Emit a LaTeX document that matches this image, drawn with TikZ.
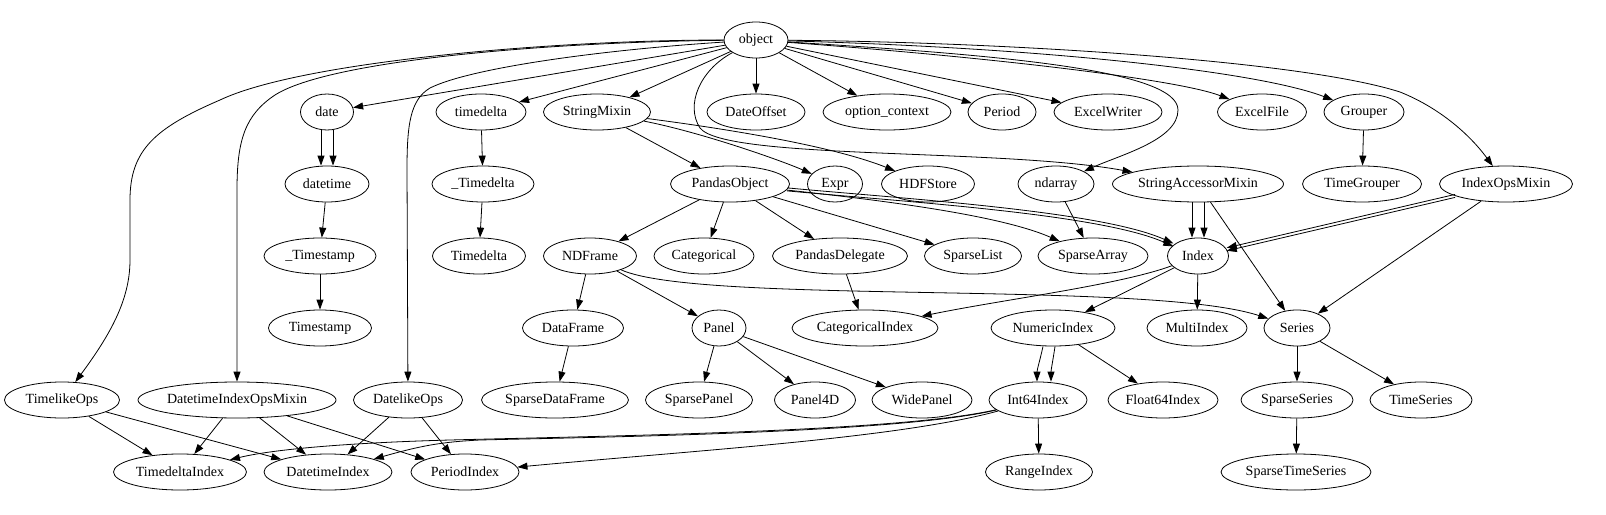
\documentclass[tikz,border=0pt]{standalone}
\usepackage{fontspec}
\setmainfont{Liberation Serif}
\usetikzlibrary{shapes.geometric,arrows.meta}
\begin{document}
\begin{tikzpicture}[x=1pt,y=-1pt,
  nd/.style={ellipse,draw,line width=0.8pt,inner sep=0pt,minimum height=36pt,font=\fontsize{14}{16}\selectfont},
  e/.style={-{Triangle[length=10pt,width=7pt]},line width=0.8pt}]
\useasboundingbox (0,0) rectangle (1606,514);
% rank 1
\node[nd,minimum width=64] (object) at (756,40) {object};
% rank 2
\node[nd,minimum width=53] (date) at (327,112) {date};
\node[nd,minimum width=90] (timedelta) at (481,112) {timedelta};
\node[nd,minimum width=107] (StringMixin) at (597,112) {StringMixin};
\node[nd,minimum width=98] (DateOffset) at (756,112) {DateOffset};
\node[nd,minimum width=128] (optctx) at (887,112) {option\_context};
\node[nd,minimum width=68] (Period) at (1002,112) {Period};
\node[nd,minimum width=108] (ExcelWriter) at (1108,112) {ExcelWriter};
\node[nd,minimum width=89] (ExcelFile) at (1262,112) {ExcelFile};
\node[nd,minimum width=80] (Grouper) at (1364,112) {Grouper};
% rank 3
\node[nd,minimum width=84] (datetime) at (327,184) {datetime};
\node[nd,minimum width=102] (uTimedelta) at (483,184) {\_Timedelta};
\node[nd,minimum width=119] (PandasObject) at (730,184) {PandasObject};
\node[nd,minimum width=55] (Expr) at (835,184) {Expr};
\node[nd,minimum width=93] (HDFStore) at (928,184) {HDFStore};
\node[nd,minimum width=76] (ndarray) at (1056,184) {ndarray};
\node[nd,minimum width=171] (SAM) at (1198,184) {StringAccessorMixin};
\node[nd,minimum width=119] (TimeGrouper) at (1362,184) {TimeGrouper};
\node[nd,minimum width=133] (IndexOpsMixin) at (1506,184) {IndexOpsMixin};
% rank 4
\node[nd,minimum width=112] (uTimestamp) at (320,256) {\_Timestamp};
\node[nd,minimum width=93] (Timedelta) at (479,256) {Timedelta};
\node[nd,minimum width=93] (NDFrame) at (590,256) {NDFrame};
\node[nd,minimum width=100] (Categorical) at (704,256) {Categorical};
\node[nd,minimum width=135] (PandasDelegate) at (840,256) {PandasDelegate};
\node[nd,minimum width=97] (SparseList) at (973,256) {SparseList};
\node[nd,minimum width=110] (SparseArray) at (1093,256) {SparseArray};
\node[nd,minimum width=61] (Index) at (1198,256) {Index};
% rank 5
\node[nd,minimum width=103] (Timestamp) at (320,328) {Timestamp};
\node[nd,minimum width=101] (DataFrame) at (573,328) {DataFrame};
\node[nd,minimum width=54] (Panel) at (719,328) {Panel};
\node[nd,minimum width=146] (CategoricalIndex) at (865,328) {CategoricalIndex};
\node[nd,minimum width=124] (NumericIndex) at (1053,328) {NumericIndex};
\node[nd,minimum width=100] (MultiIndex) at (1197,328) {MultiIndex};
\node[nd,minimum width=66] (Series) at (1297,328) {Series};
% rank 6
\node[nd,minimum width=115] (TimelikeOps) at (62,400) {TimelikeOps};
\node[nd,minimum width=198] (DIOM) at (237,400) {DatetimeIndexOpsMixin};
\node[nd,minimum width=109] (DatelikeOps) at (408,400) {DatelikeOps};
\node[nd,minimum width=147] (SparseDataFrame) at (555,400) {SparseDataFrame};
\node[nd,minimum width=107] (SparsePanel) at (699,400) {SparsePanel};
\node[nd,minimum width=81] (Panel4D) at (815,400) {Panel4D};
\node[nd,minimum width=100] (WidePanel) at (922,400) {WidePanel};
\node[nd,minimum width=98] (Int64Index) at (1038,400) {Int64Index};
\node[nd,minimum width=110] (Float64Index) at (1163,400) {Float64Index};
\node[nd,minimum width=112] (SparseSeries) at (1297,400) {SparseSeries};
\node[nd,minimum width=102] (TimeSeries) at (1421,400) {TimeSeries};
% rank 7
\node[nd,minimum width=133] (TimedeltaIndex) at (180,472) {TimedeltaIndex};
\node[nd,minimum width=128] (DatetimeIndex) at (328,472) {DatetimeIndex};
\node[nd,minimum width=108] (PeriodIndex) at (465,472) {PeriodIndex};
\node[nd,minimum width=107] (RangeIndex) at (1039,472) {RangeIndex};
\node[nd,minimum width=150] (SparseTimeSeries) at (1296,472) {SparseTimeSeries};

% edges from object
\draw[e] (object) .. controls (550,40) and (300,62) .. (220,100) .. controls (155,128) and (130,150) .. (130,200) -- (130,260) .. controls (130,300) and (110,335) .. (TimelikeOps);
\draw[e] (object) .. controls (550,42) and (330,60) .. (275,95) .. controls (245,115) and (237,140) .. (237,190) -- (DIOM);
\draw[e] (object) .. controls (600,50) and (470,68) .. (430,88) .. controls (410,100) and (407,125) .. (407,170) -- (DatelikeOps);
\draw[e] (object) -- (date);
\draw[e] (object) -- (timedelta);
\draw[e] (object) -- (StringMixin);
\draw[e] (object) -- (DateOffset);
\draw[e] (object) -- (optctx);
\draw[e] (object) -- (Period);
\draw[e] (object) -- (ExcelWriter);
\draw[e] (object) .. controls (1000,58) and (1180,80) .. (ExcelFile);
\draw[e] (object) .. controls (1050,48) and (1260,72) .. (Grouper);
\draw[e] (object) .. controls (1000,42) and (1300,60) .. (1400,92) .. controls (1440,108) and (1470,135) .. (IndexOpsMixin);
\draw[e] (object) .. controls (1000,55) and (1178,70) .. (1178,110) .. controls (1178,140) and (1120,155) .. (ndarray);
\draw[e] (object) .. controls (700,70) and (685,105) .. (700,128) .. controls (725,160) and (1000,148) .. (SAM);
% StringMixin
\draw[e] (StringMixin) -- (PandasObject);
\draw[e] (StringMixin) .. controls (700,132) and (780,160) .. (Expr);
\draw[e] (StringMixin) .. controls (720,128) and (830,145) .. (HDFStore);
% PandasObject
\draw[e] (PandasObject) -- (NDFrame);
\draw[e] (PandasObject) -- (Categorical);
\draw[e] (PandasObject) -- (PandasDelegate);
\draw[e] (PandasObject) -- (SparseList);
\draw[e] (PandasObject) .. controls (880,200) and (1000,215) .. (SparseArray);
\draw[e,transform canvas={yshift=1.5pt}] (PandasObject) .. controls (900,200) and (1100,212) .. (Index);
\draw[e,transform canvas={yshift=-1.5pt}] (PandasObject) .. controls (900,200) and (1100,212) .. (Index);
% others rank 2-3
\draw[e] (ndarray) -- (SparseArray);
\draw[e,transform canvas={xshift=-6pt}] (SAM) -- (Index);
\draw[e,transform canvas={xshift=6pt}] (SAM) -- (Index);
\draw[e] (SAM) -- (Series);
\draw[e,transform canvas={yshift=1.5pt}] (IndexOpsMixin) -- (Index);
\draw[e,transform canvas={yshift=-1.5pt}] (IndexOpsMixin) -- (Index);
\draw[e] (IndexOpsMixin) -- (Series);
\draw[e] (Grouper) -- (TimeGrouper);
\draw[e,transform canvas={xshift=-6pt}] (date) -- (datetime);
\draw[e,transform canvas={xshift=6pt}] (date) -- (datetime);
\draw[e] (datetime) -- (uTimestamp);
\draw[e] (uTimestamp) -- (Timestamp);
\draw[e] (timedelta) -- (uTimedelta);
\draw[e] (uTimedelta) -- (Timedelta);
% NDFrame
\draw[e] (NDFrame) -- (DataFrame);
\draw[e] (NDFrame) -- (Panel);
\draw[e] (NDFrame) .. controls (700,305) and (1150,280) .. (Series);
\draw[e] (PandasDelegate) -- (CategoricalIndex);
% Index
\draw[e] (Index) .. controls (1120,285) and (1000,300) .. (CategoricalIndex);
\draw[e] (Index) -- (NumericIndex);
\draw[e] (Index) -- (MultiIndex);
\draw[e] ([xshift=-10pt]NumericIndex.south) .. controls (1040,360) and (1037,370) .. ([xshift=-1pt]Int64Index.north);
\draw[e] ([xshift=2pt]NumericIndex.south) .. controls (1053,360) and (1051,370) .. ([xshift=13pt]Int64Index.north);
\draw[e] (NumericIndex) -- (Float64Index);
\draw[e] (Series) -- (SparseSeries);
\draw[e] (Series) -- (TimeSeries);
\draw[e] (SparseSeries) -- (SparseTimeSeries);
\draw[e] (DataFrame) -- (SparseDataFrame);
\draw[e] (Panel) -- (SparsePanel);
\draw[e] (Panel) -- (Panel4D);
\draw[e] (Panel) -- (WidePanel);
% bottom
\draw[e] (TimelikeOps) -- (TimedeltaIndex);
\draw[e] (TimelikeOps) -- (DatetimeIndex);
\draw[e] (DIOM) -- (TimedeltaIndex);
\draw[e] (DIOM) -- (DatetimeIndex);
\draw[e] (DIOM) -- (PeriodIndex);
\draw[e] (DatelikeOps) -- (DatetimeIndex);
\draw[e] (DatelikeOps) -- (PeriodIndex);
\draw[e] (Int64Index) -- (RangeIndex);
\draw[e] (Int64Index) .. controls (900,432) and (600,436) .. (450,440) .. controls (340,443) and (270,450) .. (TimedeltaIndex);
\draw[e] (Int64Index) .. controls (900,433) and (600,437) .. (480,440) .. controls (440,442) and (420,446) .. (DatetimeIndex);
\draw[e] (Int64Index) .. controls (900,438) and (700,450) .. (PeriodIndex);
\end{tikzpicture}
\end{document}
